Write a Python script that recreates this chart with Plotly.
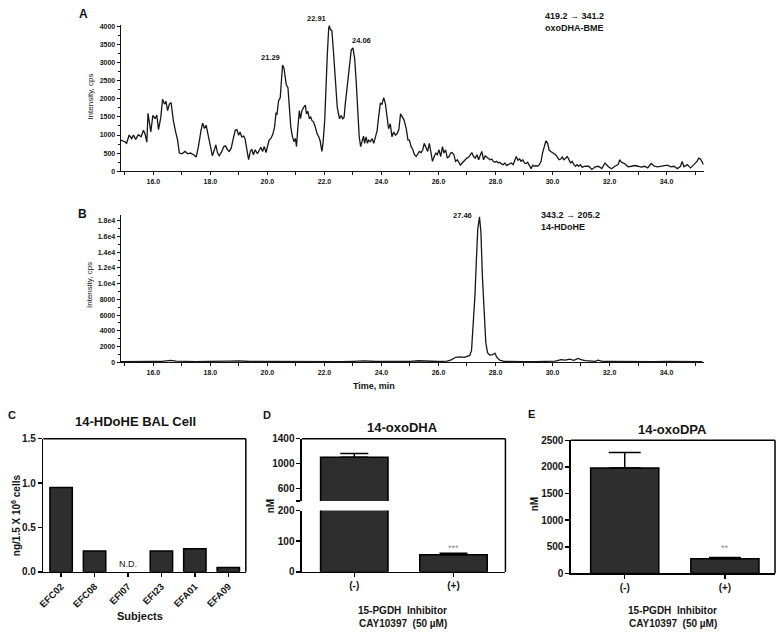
import plotly.graph_objects as go

W, H = 778, 636
FONT = "Liberation Sans, Arial, sans-serif"
INK = "#141414"
BAR = "#2e2e2e"

# ---------------- Panel A: 419.2 -> 341.2 (oxoDHA-BME) ----------------
a_time = [
    14.85, 15.00, 15.06, 15.15, 15.24, 15.30, 15.38, 15.47, 15.57, 15.65,
    15.71, 15.77, 15.81, 15.91, 15.98, 16.06, 16.12, 16.18, 16.26, 16.32,
    16.39, 16.44, 16.50, 16.56, 16.62, 16.70, 16.78, 16.85, 16.91, 17.00,
    17.11, 17.21, 17.30, 17.41, 17.50, 17.58, 17.67, 17.73, 17.79, 17.85,
    17.91, 17.96, 18.01, 18.07, 18.14, 18.19, 18.25, 18.31, 18.40, 18.47,
    18.53, 18.60, 18.66, 18.73, 18.79, 18.87, 18.93, 18.99, 19.04, 19.10,
    19.17, 19.22, 19.28, 19.34, 19.40, 19.45, 19.51, 19.57, 19.65, 19.71,
    19.77, 19.83, 19.89, 19.95, 20.00, 20.06, 20.12, 20.19, 20.25, 20.30,
    20.34, 20.39, 20.45, 20.48, 20.53, 20.58, 20.63, 20.66, 20.72, 20.77,
    20.82, 20.88, 20.93, 20.98, 21.02, 21.06, 21.12, 21.16, 21.21, 21.27,
    21.33, 21.37, 21.42, 21.47, 21.52, 21.56, 21.62, 21.68, 21.74, 21.80,
    21.85, 21.91, 21.95, 22.01, 22.05, 22.10, 22.15, 22.17, 22.21, 22.26,
    22.31, 22.38, 22.45, 22.53, 22.59, 22.64, 22.69, 22.73, 22.81, 22.89,
    22.94, 23.00, 23.06, 23.12, 23.18, 23.22, 23.27, 23.32, 23.37, 23.41,
    23.46, 23.51, 23.55, 23.61, 23.67, 23.73, 23.79, 23.85, 23.90, 23.96,
    24.02, 24.08, 24.14, 24.20, 24.25, 24.31, 24.37, 24.43, 24.49, 24.55,
    24.61, 24.67, 24.73, 24.79, 24.87, 24.93, 24.98, 25.04, 25.10, 25.16,
    25.22, 25.27, 25.33, 25.39, 25.45, 25.50, 25.56, 25.62, 25.68, 25.73,
    25.79, 25.85, 25.91, 25.96, 26.02, 26.08, 26.14, 26.19, 26.25, 26.31,
    26.37, 26.43, 26.48, 26.54, 26.60, 26.66, 26.71, 26.77, 26.83, 26.89,
    26.94, 27.00, 27.06, 27.12, 27.17, 27.23, 27.29, 27.35, 27.41, 27.46,
    27.52, 27.58, 27.64, 27.69, 27.75, 27.81, 27.87, 27.92, 27.98, 28.04,
    28.10, 28.15, 28.21, 28.27, 28.33, 28.39, 28.44, 28.50, 28.56, 28.62,
    28.67, 28.73, 28.79, 28.85, 28.90, 28.96, 29.02, 29.08, 29.13, 29.19,
    29.25, 29.31, 29.36, 29.42, 29.48, 29.54, 29.60, 29.65, 29.71, 29.77,
    29.83, 29.88, 29.94, 30.00, 30.06, 30.11, 30.17, 30.23, 30.29, 30.34,
    30.40, 30.46, 30.52, 30.58, 30.63, 30.69, 30.75, 30.81, 30.86, 30.92,
    30.98, 31.04, 31.15, 31.27, 31.38, 31.50, 31.61, 31.73, 31.84, 31.96,
    32.07, 32.19, 32.30, 32.36, 32.42, 32.53, 32.65, 32.77, 32.88, 33.00,
    33.11, 33.23, 33.34, 33.46, 33.57, 33.69, 33.80, 33.92, 34.03, 34.15,
    34.26, 34.38, 34.49, 34.55, 34.61, 34.73, 34.84, 34.96, 35.07, 35.13,
    35.19, 35.30,
]
a_intensity = [
    860, 815, 770, 1000, 900, 1000, 880, 1010, 950, 1130,
    1020, 800, 1600, 1085, 1540, 1450, 1555, 1150, 1490, 1990,
    1855, 1930, 1675, 1855, 1900, 1400, 1085, 860, 500, 480,
    545, 480, 500, 455, 390, 680, 1130, 1330, 1180, 1270,
    1040, 860, 590, 425, 590, 725, 500, 425, 545, 680,
    700, 590, 545, 635, 860, 1130, 1150, 995, 1085, 950,
    970, 880, 590, 320, 545, 605, 455, 590, 480, 590,
    660, 545, 680, 515, 680, 860, 905, 1020, 1220, 1600,
    1585, 1945, 2035, 2355, 2940, 2850, 2490, 2400, 2310, 1855,
    1220, 950, 815, 905, 680, 1130, 1675, 1450, 1675, 1765,
    1830, 1585, 1655, 1450, 1495, 1405, 1360, 1220, 1040, 950,
    840, 545, 770, 1405, 2310, 3215, 3955, 4030, 3920, 3890,
    3390, 2490, 1765, 1450, 1540, 1450, 1495, 1855, 2490, 2940,
    3350, 3410, 3120, 2400, 1495, 950, 680, 860, 970, 770,
    950, 770, 860, 815, 905, 770, 995, 1130, 1495, 1875,
    1855, 2035, 1855, 1495, 1175, 1310, 950, 1085, 995, 1040,
    1150, 1585, 1495, 1420, 1175, 860, 860, 680, 590, 455,
    405, 455, 545, 515, 590, 770, 635, 545, 770, 500,
    270, 405, 500, 455, 590, 405, 680, 500, 590, 360,
    405, 500, 515, 455, 270, 315, 225, 165, 225, 270,
    335, 360, 390, 455, 515, 405, 360, 455, 315, 425,
    545, 315, 425, 390, 360, 315, 335, 270, 245, 270,
    225, 245, 200, 180, 225, 155, 180, 210, 225, 180,
    270, 405, 300, 335, 270, 315, 225, 210, 245, 135,
    70, 165, 135, 155, 135, 180, 270, 500, 680, 840,
    770, 590, 545, 515, 500, 455, 390, 315, 335, 390,
    315, 360, 405, 315, 225, 270, 180, 135, 180, 135,
    180, 110, 135, 135, 45, 120, 135, 70, 225, 120,
    65, 135, 180, 315, 245, 210, 120, 135, 155, 135,
    110, 135, 90, 210, 135, 120, 135, 155, 165, 120,
    135, 70, 135, 270, 120, 180, 90, 180, 270, 360,
    335, 180,
]
a_peak_labels = ["21.29", "22.91", "24.06"]
a_peak_time = [20.53, 22.17, 23.00]
a_peak_int = [2940, 4030, 3410]

# ---------------- Panel B: 343.2 -> 205.2 (14-HDoHE) ----------------
b_time = [
    14.85, 15.2, 15.6, 16.0, 16.3, 16.6, 16.8, 17.1, 17.5, 17.9,
    18.3, 18.7, 19.0, 19.4, 19.8, 20.2, 20.6, 21.0, 21.4, 21.8,
    22.2, 22.6, 23.0, 23.4, 23.8, 24.2, 24.6, 25.0, 25.3, 25.7,
    26.0, 26.3, 26.45, 26.6, 26.75, 26.9, 27.0, 27.1, 27.16, 27.22,
    27.28, 27.33, 27.38, 27.44, 27.49, 27.54, 27.60, 27.66, 27.72, 27.80,
    27.90, 27.98, 28.05, 28.15, 28.3, 28.6, 29.0, 29.4, 29.8, 30.1,
    30.3, 30.45, 30.6, 30.75, 30.9, 31.0, 31.15, 31.3, 31.5, 31.6,
    31.75, 32.0, 32.4, 32.8, 33.2, 33.6, 34.0, 34.4, 34.8, 35.25,
]
b_intensity = [
    60, 90, 70, 110, 90, 220, 120, 80, 60, 100,
    70, 120, 150, 80, 110, 90, 160, 80, 60, 100,
    80, 60, 90, 150, 80, 60, 90, 110, 180, 90,
    80, 120, 300, 620, 680, 600, 720, 850, 1500, 4500,
    8500, 13000, 17000, 18500, 16500, 11000, 6000, 2500, 1200, 900,
    950, 1150, 600, 250, 100, 60, 50, 70, 90, 120,
    330, 260, 380, 220, 480, 320, 200, 120, 90, 250,
    100, 80, 60, 70, 90, 50, 80, 60, 70, 50,
]
b_peak_labels = ["27.46"]
b_peak_time = [27.44]
b_peak_int = [18500]

chrom_tick_vals = [16, 18, 20, 22, 24, 26, 28, 30, 32, 34]
chrom_tick_text = ["16.0", "18.0", "20.0", "22.0", "24.0", "26.0", "28.0", "30.0", "32.0", "34.0"]
b_ytick_vals = [0, 2000, 4000, 6000, 8000, 10000, 12000, 14000, 16000, 18000]
b_ytick_text = ["0", "2000", "4000", "6000", "8000", "1.0e4", "1.2e4", "1.4e4", "1.6e4", "1.8e4"]

# ---------------- Panel C ----------------
c_subjects = ["EFC02", "EFC08", "EFI07", "EFI23", "EFA01", "EFA09"]
c_values = [0.95, 0.235, None, 0.235, 0.26, 0.05]
c_nd_subject = "EFI07"

# ---------------- Panels D, E ----------------
groups = ["(-)", "(+)"]
d_mean = [1100, 56]
d_sem = [63, 5]
e_mean = [1980, 277]
e_sem = [290, 23]
d_lower_ticks = [0, 100, 200]
d_upper_ticks = [600, 1000, 1400]
d_break_tick = [400]


def fx(px):
    return px / W


def fy(py):
    return 1 - py / H


def font(size, bold=True, color=INK):
    return dict(family=FONT, size=size, color=color, weight="bold" if bold else "normal")


fig = go.Figure()

line_style = dict(color="#161616", width=1.3)
fig.add_trace(go.Scatter(x=a_time, y=a_intensity, mode="lines", line=line_style,
                         xaxis="x", yaxis="y", hoverinfo="skip"))
fig.add_trace(go.Scatter(x=b_time, y=b_intensity, mode="lines", line=line_style,
                         xaxis="x2", yaxis="y2", hoverinfo="skip"))

bar_marker = dict(color=BAR, line=dict(color="black", width=1.5))
fig.add_trace(go.Bar(x=c_subjects, y=c_values, xaxis="x3", yaxis="y3",
                     marker=bar_marker, width=0.67))

err_d = dict(type="data", array=d_sem, arrayminus=[0, 0], symmetric=False,
             color="black", thickness=1.5, width=14)
fig.add_trace(go.Bar(x=groups, y=d_mean, xaxis="x4", yaxis="y4", marker=bar_marker,
                     width=0.68, error_y=err_d))
fig.add_trace(go.Bar(x=groups, y=d_mean, xaxis="x4", yaxis="y5", marker=bar_marker,
                     width=0.68, error_y=err_d))

err_e = dict(type="data", array=e_sem, arrayminus=[0, 0], symmetric=False,
             color="black", thickness=1.5, width=16)
fig.add_trace(go.Bar(x=groups, y=e_mean, xaxis="x5", yaxis="y6", marker=bar_marker,
                     width=0.68, error_y=err_e))

chrom_x = dict(range=[14.85, 35.3], showline=True, linecolor=INK, linewidth=1,
               ticks="outside", ticklen=3, tickwidth=1, tickcolor=INK,
               tickmode="array", tickvals=chrom_tick_vals, ticktext=chrom_tick_text,
               minor=dict(ticks="outside", ticklen=3, tickcolor=INK, tickmode="linear",
                          tick0=15, dtick=1),
               tickfont=font(7), showgrid=False, zeroline=False)


def box_axis(size=10):
    return dict(showline=True, linecolor="black", linewidth=1.5, mirror=False,
                ticks="outside", ticklen=4, tickwidth=1.5, tickcolor="black",
                tickfont=font(size), showgrid=False, zeroline=False)


# pixel boxes of the three bar panels (left, top, right, bottom)
C_BOX = (37.7, 441, 241.7, 576.7)
D_BOX = (298.3, 441, 503.3, 576.7)
E_BOX = (569.3, 442.7, 775, 578.3)

layout = dict(
    width=W, height=H, autosize=False,
    margin=dict(l=0, r=0, t=0, b=0, pad=0),
    paper_bgcolor="white", plot_bgcolor="white",
    showlegend=False, bargap=0.3,
    xaxis=dict(domain=[fx(115.5), fx(703)], anchor="y", **chrom_x),
    yaxis=dict(domain=[fy(168.3), fy(19.2)], anchor="x", range=[0, 4050],
               showline=True, linecolor=INK, linewidth=1, ticks="outside", ticklen=3,
               tickcolor=INK, tickmode="linear", tick0=0, dtick=500, tickfont=font(7),
               minor=dict(ticks="outside", ticklen=2, tickcolor=INK, dtick=250),
               showgrid=False, zeroline=False),
    xaxis2=dict(domain=[fx(115.5), fx(703)], anchor="y2", **chrom_x),
    yaxis2=dict(domain=[fy(363), fy(213)], anchor="x2", range=[0, 18750],
                showline=True, linecolor=INK, linewidth=1, ticks="outside", ticklen=3,
                tickcolor=INK, tickmode="array", tickvals=b_ytick_vals, ticktext=b_ytick_text,
                tickfont=font(7),
                minor=dict(ticks="outside", ticklen=2, tickcolor=INK, tickmode="linear",
                           tick0=0, dtick=1000),
                showgrid=False, zeroline=False),
    xaxis3=dict(domain=[fx(C_BOX[0]), fx(C_BOX[2])], anchor="y3", type="category",
                range=[-0.53, 5.525], tickangle=-45, **box_axis(9.5)),
    yaxis3=dict(domain=[fy(C_BOX[3]), fy(C_BOX[1])], anchor="x3", range=[0, 1.5],
                tickmode="linear", tick0=0, dtick=0.5, tickformat=".1f", **box_axis()),
    xaxis4=dict(domain=[fx(D_BOX[0]), fx(D_BOX[2])], anchor="y4", type="category",
                range=[-0.527, 1.523], **box_axis()),
    yaxis4=dict(domain=[fy(D_BOX[3]), fy(514.3)], anchor="x4", range=[0, 200],
                tickmode="array", tickvals=d_lower_ticks, **box_axis()),
    yaxis5=dict(domain=[fy(504.4), fy(D_BOX[1])], anchor="x4", range=[400, 1400],
                tickmode="array", tickvals=d_upper_ticks,
                minor=dict(ticks="outside", ticklen=4, tickwidth=1.5, tickcolor="black",
                           tickmode="array", tickvals=d_break_tick),
                **box_axis()),
    xaxis5=dict(domain=[fx(E_BOX[0]), fx(E_BOX[2])], anchor="y6", type="category",
                range=[-0.537, 1.5], **box_axis()),
    yaxis6=dict(domain=[fy(E_BOX[3]), fy(E_BOX[1])], anchor="x5", range=[0, 2500],
                tickmode="linear", tick0=0, dtick=500, **box_axis()),
)
fig.update_layout(**layout)

# frames (top and right edges) of the bar panels, in page coordinates
shape_line = dict(color="black", width=1.5)
for (l, t, r, b) in (C_BOX, D_BOX, E_BOX):
    fig.add_shape(type="line", xref="paper", yref="paper", x0=fx(l), x1=fx(r),
                  y0=fy(t), y1=fy(t), line=shape_line)
    fig.add_shape(type="line", xref="paper", yref="paper", x0=fx(r), x1=fx(r),
                  y0=fy(t), y1=fy(b), line=shape_line)

ann = []


def add_text(text, x, y, size, bold=True, xanchor="center", yanchor="middle", angle=0, color=INK):
    ann.append(dict(text=text, x=fx(x), y=fy(y), xref="paper", yref="paper", showarrow=False,
                    font=font(size, bold, color), xanchor=xanchor, yanchor=yanchor,
                    textangle=angle))


# panel letters
add_text("A", 78, 8, 12)
add_text("B", 77, 212, 12)
add_text("C", 6, 417, 11)
add_text("D", 263, 417, 11)
add_text("E", 530, 416, 11)

# chromatogram labels
add_text("419.2 \u2192 341.2", 541, 10, 9, xanchor="left")
add_text("oxoDHA-BME", 541, 22, 9, xanchor="left")
add_text("343.2 \u2192 205.2", 537, 213, 9, xanchor="left")
add_text("14-HDoHE", 537, 225, 9, xanchor="left")
add_text("Intensity, cps", 85, 92, 8, bold=False, angle=-90)
add_text("Intensity, cps", 84, 284, 8, bold=False, angle=-90)
add_text("Time, min", 371, 387, 9)

# bar panel titles
add_text("14-HDoHE BAL Cell", 131, 423, 13)
add_text("14-oxoDHA", 400, 430, 13)
add_text("14-oxoDPA", 672, 432, 13)
add_text("ng/1.5 X 10<sup>6</sup> cells", 10, 519, 10, angle=-90)
add_text("nM", 266, 510, 10, angle=-90)
add_text("nM", 533, 508, 10, angle=-90)
add_text("Subjects", 135, 622, 11)
for cx in (400, 672):
    add_text("15-PGDH\u00a0\u00a0Inhibitor", cx, 616, 10)
    add_text("CAY10397\u00a0\u00a0(50 \u00b5M)", cx, 629, 10)

# peak labels anchored to the data
for lab, t, v in zip(a_peak_labels, a_peak_time, a_peak_int):
    anchor = "left" if lab == "24.06" else "right"
    ann.append(dict(text=lab, x=t, y=v, xref="x", yref="y", showarrow=False,
                    font=font(7.5), xanchor=anchor, yanchor="bottom",
                    xshift=-3 if anchor == "left" else -1, yshift=1))
for lab, t, v in zip(b_peak_labels, b_peak_time, b_peak_int):
    ann.append(dict(text=lab, x=t, y=v, xref="x2", yref="y2", showarrow=False,
                    font=font(7.5), xanchor="right", yanchor="middle", xshift=-6, yshift=1))

# N.D. and significance marks
ann.append(dict(text="N.D.", x=c_nd_subject, y=0, xref="x3", yref="y3", showarrow=False,
                font=font(9, bold=False), yanchor="bottom", yshift=1))
ann.append(dict(text="***", x=groups[1], y=d_mean[1] + d_sem[1], xref="x4", yref="y4",
                showarrow=False, font=font(9, bold=False, color="#8c8c8c"),
                yanchor="bottom", yshift=-2))
ann.append(dict(text="**", x=groups[1], y=e_mean[1] + e_sem[1], xref="x5", yref="y6",
                showarrow=False, font=font(9, bold=False, color="#8c8c8c"),
                yanchor="bottom", yshift=2))

fig.update_layout(annotations=ann)
fig.write_html(
    "out.html",
    config={"displayModeBar": False, "staticPlot": True},
    post_script="document.body.style.margin='0';document.body.style.overflow='hidden';",
)
